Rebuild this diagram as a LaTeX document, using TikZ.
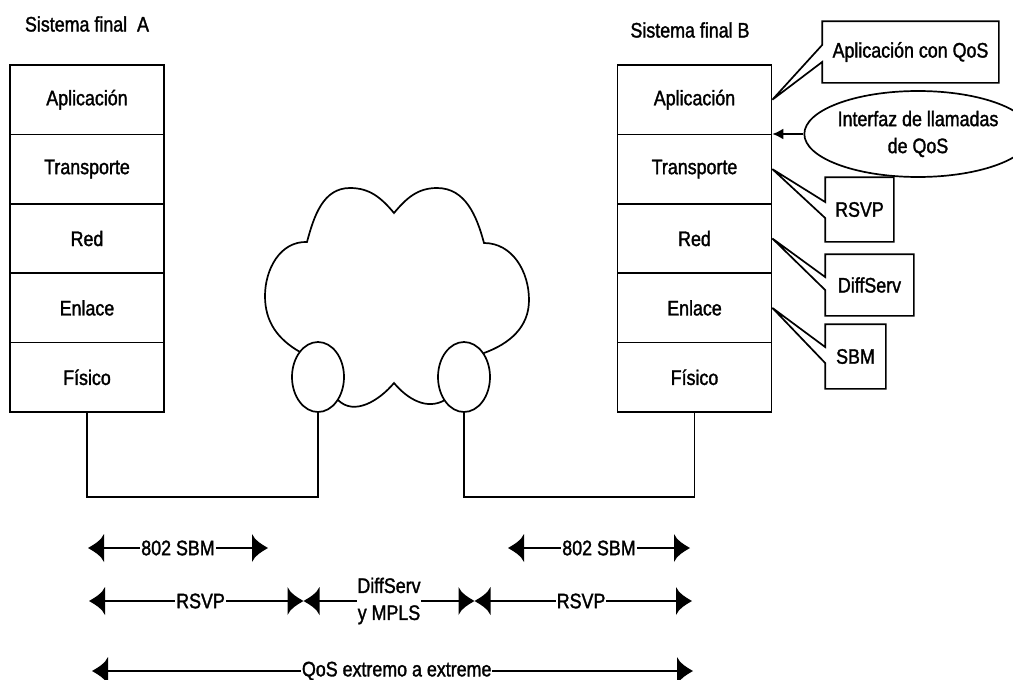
\documentclass[tikz,border=0pt]{standalone}
\usepackage{fontspec}
\setmainfont[FakeStretch=0.85,FakeBold=1.5]{Liberation Sans}
\usetikzlibrary{shapes.geometric,arrows.meta,calc}

\pgfdeclarearrow{
  name = Cnc,
  parameters = {\the\pgfarrowlength,\the\pgfarrowwidth},
  setup code = {
    \pgfarrowssettipend{0pt}
    \pgfarrowssetlineend{-.5\pgfarrowlength}
    \pgfarrowssetbackend{-\pgfarrowlength}
    \pgfarrowssetvisualbackend{-\pgfarrowlength}
    \pgfarrowssavethe\pgfarrowlength
    \pgfarrowssavethe\pgfarrowwidth
  },
  drawing code = {
    \pgfpathmoveto{\pgfqpoint{0pt}{0pt}}
    \pgfpathcurveto{\pgfqpoint{-.45\pgfarrowlength}{.15\pgfarrowwidth}}{\pgfqpoint{-.8\pgfarrowlength}{.26\pgfarrowwidth}}{\pgfqpoint{-\pgfarrowlength}{.5\pgfarrowwidth}}
    \pgfpathlineto{\pgfqpoint{-\pgfarrowlength}{-.5\pgfarrowwidth}}
    \pgfpathcurveto{\pgfqpoint{-.8\pgfarrowlength}{-.26\pgfarrowwidth}}{\pgfqpoint{-.45\pgfarrowlength}{-.15\pgfarrowwidth}}{\pgfqpoint{0pt}{0pt}}
    \pgfpathclose
    \pgfusepathqfill
  },
  defaults = {length=15pt, width=26pt}
}

\tikzset{
  layer/.style={draw, minimum width=154pt, minimum height=69.4pt, inner sep=0pt},
  plain/.style={inner sep=0pt},
  dim/.style={{Cnc[length=16pt,width=28pt]}-{Cnc[length=16pt,width=28pt]}},
  lbl/.style={fill=white, inner sep=1pt, align=center},
}

\begin{document}
\begin{tikzpicture}[x=1pt, y=1pt, line width=1.7pt, font=\fontsize{21}{27}\selectfont]
\useasboundingbox (0,0) rectangle (1013,-680);

% titles
\node[plain] (titA) at (87,-24) {Sistema final\ \ A};
\node[plain] (titB) at (690,-30) {Sistema final B};

% stack A
\node[layer] (aplA) at (87,-99.7) {Aplicación};
\node[layer] (traA) at (87,-169.1) {Transporte};
\node[layer] (redA) at (87,-238.5) {Red};
\node[layer] (enlA) at (87,-307.9) {Enlace};
\node[layer] (fisA) at (87,-377.3) {Físico};

% stack B
\node[layer] (aplB) at (694.5,-99.7) {Aplicación};
\node[layer] (traB) at (694.5,-169.1) {Transporte};
\node[layer] (redB) at (694.5,-238.5) {Red};
\node[layer] (enlB) at (694.5,-307.9) {Enlace};
\node[layer] (fisB) at (694.5,-377.3) {Físico};

% side boxes (callouts)
\node[plain, minimum width=175pt, minimum height=60pt] (apq) at (910.5,-52) {Aplicación con QoS};
\draw (apq.north west) -- ([yshift=7pt]apq.west) -- (aplB.east) -- ([yshift=-10pt]apq.west)
      -- (apq.south west) -- (apq.south east) -- (apq.north east) -- cycle;

\node[plain, minimum width=67pt, minimum height=63pt] (rsvp) at (859.5,-209.5) {RSVP};
\draw (rsvp.north west) -- ([yshift=7.5pt]rsvp.west) -- (traB.east) -- ([yshift=-8.5pt]rsvp.west)
      -- (rsvp.south west) -- (rsvp.south east) -- (rsvp.north east) -- cycle;

\node[plain, minimum width=87pt, minimum height=60pt] (diff) at (869.5,-285) {DiffServ};
\draw (diff.north west) -- ([yshift=8pt]diff.west) -- (redB.east) -- ([yshift=-5pt]diff.west)
      -- (diff.south west) -- (diff.south east) -- (diff.north east) -- cycle;

\node[plain, minimum width=59pt, minimum height=63pt] (sbm) at (855.5,-356.5) {SBM};
\draw (sbm.north west) -- ([yshift=9.5pt]sbm.west) -- (enlB.east) -- ([yshift=-6.5pt]sbm.west)
      -- (sbm.south west) -- (sbm.south east) -- (sbm.north east) -- cycle;

% interface ellipse
\node[draw, ellipse, inner sep=0pt, minimum width=188pt, minimum height=86pt, align=center]
  (intf) at (918,-134) {Interfaz de llamadas\\de QoS};
\draw[-{Latex[length=11pt,width=11pt]}] (intf.west) -- (intf.west -| aplB.east);

% cloud
\draw (394,-213) to[out=130,in=0] (350,-188) to[out=180,in=75] (307,-242)
  to[out=178,in=90] (265,-296) to[out=-90,in=150] (300,-352) -- (318,-377) -- (338,-400)
  to[out=-45,in=230] (394,-383) to[out=-50,in=210] (445,-400) -- (464,-377) -- (484,-353)
  to[out=20,in=-90] (529,-300) to[out=90,in=0] (484,-243) to[out=105,in=0] (437,-188)
  to[out=180,in=50] (394,-213) -- cycle;
\node[draw, ellipse, fill=white, inner sep=0pt, minimum width=52pt, minimum height=70pt] (ellL) at (318,-377) {};
\node[draw, ellipse, fill=white, inner sep=0pt, minimum width=52pt, minimum height=70pt] (ellR) at (464,-377) {};

% links
\coordinate (jA) at (87,-497);
\coordinate (jB) at (694.5,-497);
\draw (fisA.south) -- (jA) -| (ellL.south);
\draw (fisB.south) -- (jB) -| (ellR.south);

% dimension arrows
\coordinate (r1a) at (88,-548);  \coordinate (r1b) at (268,-548);
\coordinate (r1c) at (508,-548); \coordinate (r1d) at (690,-548);
\draw[dim] (r1a) -- (r1b) node[lbl, midway] (s1) {802 SBM};
\draw[dim] (r1c) -- (r1d) node[lbl, midway] (s2) {802 SBM};

\coordinate (r2a) at (89,-601);  \coordinate (r2b) at (303.5,-601);
\coordinate (r2c) at (303.5,-601); \coordinate (r2d) at (474.5,-601);
\coordinate (r2e) at (474.5,-601); \coordinate (r2f) at (692,-601);
\draw[dim] (r2a) -- (r2b) node[lbl, pos=0.52] (rs1) {RSVP};
\draw[dim] (r2c) -- (r2d) node[lbl, pos=0.5, inner sep=0pt] (dm) {DiffServ\\y MPLS};
\draw[dim] (r2e) -- (r2f) node[lbl, pos=0.49] (rs2) {RSVP};

\coordinate (r3a) at (92,-671); \coordinate (r3b) at (693,-671);
\draw[dim] (r3a) -- (r3b) node[lbl, pos=0.507] (qos) {QoS extremo a extreme};
\end{tikzpicture}
\end{document}
